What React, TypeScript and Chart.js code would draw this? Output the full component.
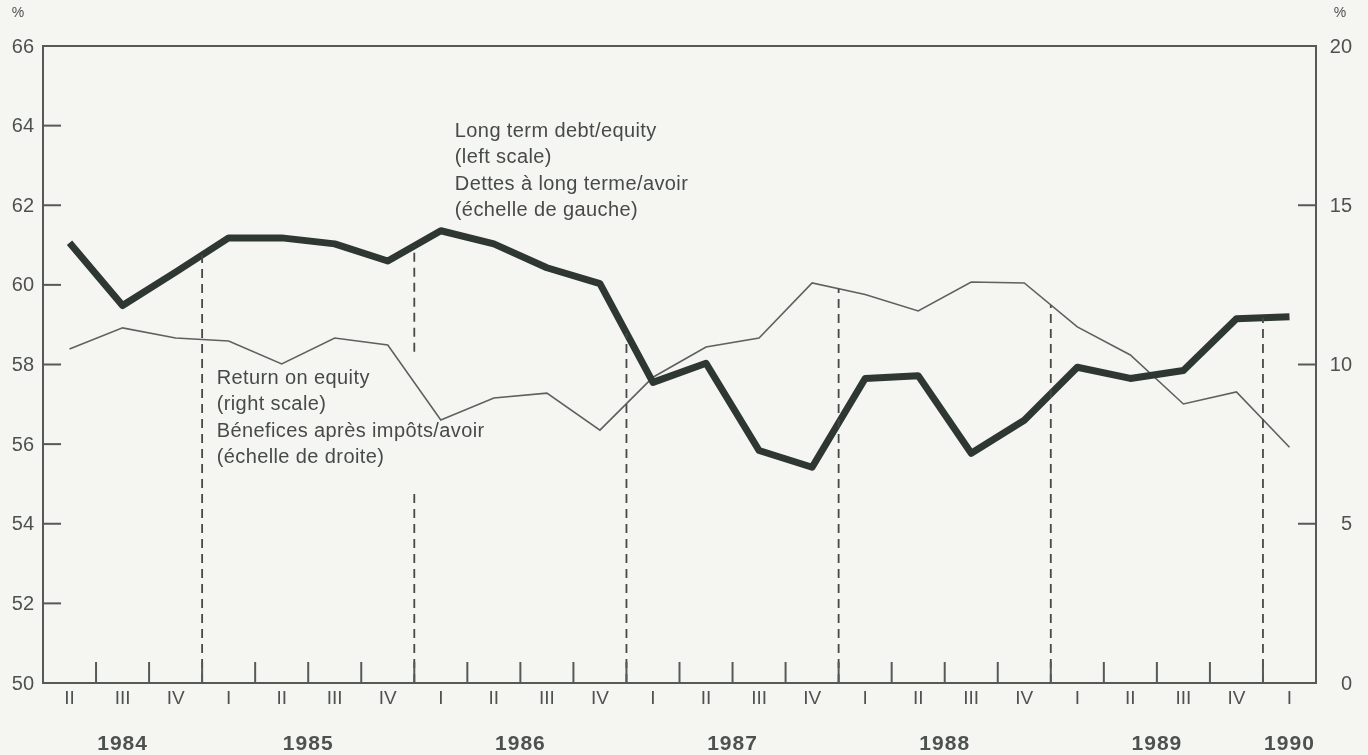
import React, { useEffect, useRef } from "react";
import { Chart, registerables } from "chart.js";

Chart.register(...registerables);

// ---- Data ----
const quarterLabels = [
  "II", "III", "IV",
  "I", "II", "III", "IV",
  "I", "II", "III", "IV",
  "I", "II", "III", "IV",
  "I", "II", "III", "IV",
  "I", "II", "III", "IV",
  "I",
];
const quarterYears = [
  "1984", "1984", "1984",
  "1985", "1985", "1985", "1985",
  "1986", "1986", "1986", "1986",
  "1987", "1987", "1987", "1987",
  "1988", "1988", "1988", "1988",
  "1989", "1989", "1989", "1989",
  "1990",
];
const yearLabels = ["1984", "1985", "1986", "1987", "1988", "1989", "1990"];

// Long term debt / equity (left scale, %)
const debtEquity = [
  61.06, 59.48, 60.32,
  61.18, 61.18, 61.03, 60.6,
  61.36, 61.03, 60.43, 60.03,
  57.55, 58.03, 55.84, 55.42,
  57.65, 57.72, 55.77, 56.6,
  57.93, 57.65, 57.85, 59.15,
  59.2,
];
// Return on equity (right scale, %)
const returnOnEquity = [
  10.49, 11.15, 10.83,
  10.74, 10.02, 10.83, 10.61,
  8.26, 8.95, 9.1, 7.94,
  9.6, 10.55, 10.83, 12.56,
  12.2, 11.68, 12.59, 12.56,
  11.18, 10.3, 8.76, 9.14,
  7.4,
];

const leftTickValues = [50, 52, 54, 56, 58, 60, 62, 64, 66];
const rightTickValues = [0, 5, 10, 15, 20];

const debtNote = [
  "Long term debt/equity",
  "(left scale)",
  "Dettes à long terme/avoir",
  "(échelle de gauche)",
];
const returnNote = [
  "Return on equity",
  "(right scale)",
  "Bénefices après impôts/avoir",
  "(échelle de droite)",
];

// ---- Styling ----
const FONT = '"Liberation Sans", Arial, Helvetica, sans-serif';
const BG = "#f5f5f2";
const AXIS = "#555a56";
const TEXT = "#4e524f";
const THICK = "#2e3731";
const THIN = "#5d625e";

const decorPlugin = {
  id: "decor",
  beforeDraw(chart: any) {
    const { ctx, width, height } = chart;
    ctx.save();
    ctx.fillStyle = BG;
    ctx.fillRect(0, 0, width, height);
    ctx.restore();
  },
  afterDatasetsDraw(chart: any) {
    const { ctx, chartArea: a, scales } = chart;
    const xs = scales.x;
    const yl = scales.yLeft;
    const yr = scales.yRight;
    const m0 = chart.getDatasetMeta(0).data;
    const m1 = chart.getDatasetMeta(1).data;
    ctx.save();

    // year boundary dashed lines (from axis up to upper line)
    ctx.strokeStyle = "#454a46";
    ctx.lineWidth = 1.8;
    ctx.setLineDash([9, 6]);
    for (let k = 0; k < quarterLabels.length - 1; k++) {
      if (quarterYears[k] === quarterYears[k + 1]) continue;
      const bx = (xs.getPixelForValue(k) + xs.getPixelForValue(k + 1)) / 2;
      const ya = (m0[k].y + m0[k + 1].y) / 2;
      const yb = (m1[k].y + m1[k + 1].y) / 2;
      const top = Math.min(ya, yb);
      ctx.beginPath();
      if (quarterYears[k] === "1985") {
        // gap around the return-on-equity note
        const g1 = yr.getPixelForValue(10.4);
        const g2 = yr.getPixelForValue(6.1);
        ctx.moveTo(bx, a.bottom);
        ctx.lineTo(bx, g2);
        ctx.moveTo(bx, g1);
        ctx.lineTo(bx, top);
      } else {
        ctx.moveTo(bx, a.bottom);
        ctx.lineTo(bx, top);
      }
      ctx.stroke();
    }
    ctx.setLineDash([]);

    // frame
    ctx.strokeStyle = AXIS;
    ctx.lineWidth = 2;
    ctx.strokeRect(a.left, a.top, a.right - a.left, a.bottom - a.top);

    // x ticks at quarter boundaries
    ctx.lineWidth = 2;
    for (let k = 0; k < quarterLabels.length - 1; k++) {
      const bx = (xs.getPixelForValue(k) + xs.getPixelForValue(k + 1)) / 2;
      ctx.beginPath();
      ctx.moveTo(bx, a.bottom);
      ctx.lineTo(bx, a.bottom - 21);
      ctx.stroke();
    }

    // left ticks + labels
    ctx.fillStyle = TEXT;
    ctx.font = `20px ${FONT}`;
    ctx.textBaseline = "middle";
    ctx.textAlign = "right";
    leftTickValues.forEach((v) => {
      const y = yl.getPixelForValue(v);
      if (v !== leftTickValues[0] && v !== leftTickValues[leftTickValues.length - 1]) {
        ctx.beginPath();
        ctx.moveTo(a.left, y);
        ctx.lineTo(a.left + 18, y);
        ctx.stroke();
      }
      ctx.fillText(String(v), a.left - 9, y + 1);
    });
    // right ticks + labels
    rightTickValues.forEach((v) => {
      const y = yr.getPixelForValue(v);
      if (v !== rightTickValues[0] && v !== rightTickValues[rightTickValues.length - 1]) {
        ctx.beginPath();
        ctx.moveTo(a.right, y);
        ctx.lineTo(a.right - 18, y);
        ctx.stroke();
      }
      ctx.fillText(String(v), a.right + 36, y + 1);
    });

    // % signs
    ctx.font = `14px ${FONT}`;
    ctx.textAlign = "center";
    ctx.fillText("%", 18, 13);
    ctx.fillText("%", a.right + 24, 13);

    // quarter labels
    ctx.font = `19px ${FONT}`;
    ctx.textAlign = "center";
    quarterLabels.forEach((q, i) => {
      ctx.fillText(q, xs.getPixelForValue(i), a.bottom + 16);
    });

    // year labels
    ctx.font = `bold 21px ${FONT}`;
    (ctx as any).letterSpacing = "1px";
    yearLabels.forEach((yr0) => {
      const idx: number[] = [];
      quarterYears.forEach((qy, i) => {
        if (qy === yr0) idx.push(i);
      });
      const mid = idx.reduce((s, v) => s + v, 0) / idx.length;
      ctx.fillText(yr0, xs.getPixelForValue(mid), a.bottom + 61);
    });

    // notes
    ctx.font = `20px ${FONT}`;
    (ctx as any).letterSpacing = "0.4px";
    ctx.textAlign = "left";
    ctx.fillStyle = "#474b48";
    const noteGaps = [0, 26, 53, 79];
    const dx = xs.getPixelForValue(7) + 14;
    const dy = yl.getPixelForValue(63.86);
    debtNote.forEach((t, i) => ctx.fillText(t, dx, dy + noteGaps[i]));
    const rx = xs.getPixelForValue(3) - 12;
    const ry = yr.getPixelForValue(9.55);
    returnNote.forEach((t, i) => ctx.fillText(t, rx, ry + noteGaps[i]));

    ctx.restore();
  },
};

export default function App() {
  const canvasRef = useRef<HTMLCanvasElement | null>(null);

  useEffect(() => {
    document.body.style.margin = "0";
    const canvas = canvasRef.current;
    if (!canvas) return;
    const chart = new Chart(canvas, {
      type: "line",
      data: {
        labels: quarterLabels,
        datasets: [
          {
            label: "Long term debt/equity",
            data: debtEquity,
            yAxisID: "yLeft",
            borderColor: THICK,
            borderWidth: 7,
            borderJoinStyle: "round",
            borderCapStyle: "butt",
            pointRadius: 0,
            tension: 0,
            fill: false,
            order: 0,
          },
          {
            label: "Return on equity",
            data: returnOnEquity,
            yAxisID: "yRight",
            borderColor: THIN,
            borderWidth: 1.6,
            pointRadius: 0,
            tension: 0,
            fill: false,
            order: 1,
          },
        ],
      },
      options: {
        responsive: true,
        maintainAspectRatio: false,
        animation: false,
        layout: { padding: { top: 46, left: 0, right: 0, bottom: 0 } },
        plugins: {
          legend: { display: false },
          tooltip: { enabled: false },
        },
        scales: {
          x: {
            type: "category",
            offset: true,
            grid: { display: false, drawTicks: false, offset: true },
            border: { display: false },
            ticks: { display: false },
            afterFit: (s: any) => {
              s.height = 72;
            },
          },
          yLeft: {
            type: "linear",
            position: "left",
            min: 50,
            max: 66,
            grid: { display: false, drawTicks: false },
            border: { display: false },
            ticks: { display: false, stepSize: 2 },
            afterFit: (s: any) => {
              s.width = 43;
            },
          },
          yRight: {
            type: "linear",
            position: "right",
            min: 0,
            max: 20,
            grid: { display: false, drawTicks: false },
            border: { display: false },
            ticks: { display: false, stepSize: 5 },
            afterFit: (s: any) => {
              s.width = 52;
            },
          },
        },
      },
      plugins: [decorPlugin],
    });
    return () => chart.destroy();
  }, []);

  return (
    <div style={{ width: 1368, height: 755, position: "relative", background: BG }}>
      <canvas ref={canvasRef} />
    </div>
  );
}
